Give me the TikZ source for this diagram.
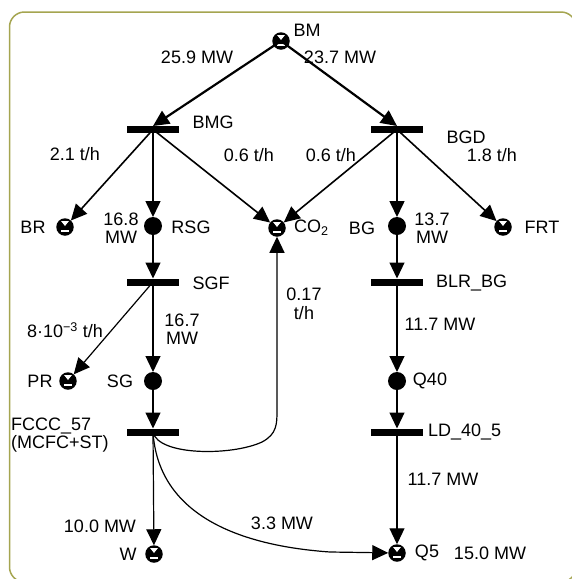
\documentclass[tikz,border=0pt]{standalone}
\usepackage{fontspec}
\setmainfont{Liberation Sans}
\usetikzlibrary{arrows.meta}
\definecolor{framecol}{RGB}{165,165,80}
\tikzset{
  lbl/.style={font=\fontsize{18}{18.5}\selectfont, inner sep=0pt, align=center},
  bar/.style={fill=black, minimum width=52pt, minimum height=7pt, inner sep=0pt, outer sep=0pt},
  place/.style={circle, fill=black, minimum size=18pt, inner sep=0pt, outer sep=0pt},
  sink/.style={circle, fill=black, minimum size=17.5pt, inner sep=0pt, outer sep=0pt,
    path picture={
      \fill[white] ([xshift=-3.8pt,yshift=5.8pt]path picture bounding box.center) -- ++(7.6pt,0pt)
        -- ([yshift=1pt]path picture bounding box.center) -- cycle;
      \fill[white] ([xshift=-3.6pt,yshift=-3.2pt]path picture bounding box.center) rectangle ++(7.2pt,-1.8pt);}},
  flow/.style={line width=1.2pt, -{Triangle[length=16pt,width=15pt]}},
  thickflow/.style={flow, line width=2.2pt},
  midflow/.style={flow, line width=1.6pt},
}
\begin{document}
\begin{tikzpicture}[x=1pt,y=-1pt]
\useasboundingbox (0,0) rectangle (572,579);
\begin{scope}
\clip (0,0) rectangle (572,579);
\draw[framecol, line width=1.5pt, rounded corners=15pt] (9.5,12) rectangle (576,582);
\end{scope}

% nodes
\node[sink] (BM) at (281,41) {};
\node[bar] (BMG) at (153,129.5) {};
\node[bar] (BGD) at (397,129.5) {};
\node[sink] (BR) at (65,227) {};
\node[place] (RSG) at (153,226) {};
\node[sink] (CO2) at (277,228) {};
\node[place] (BG) at (397,226) {};
\node[sink] (FRT) at (503,227) {};
\node[bar] (SGF) at (153,282) {};
\node[bar] (BLR) at (397,282) {};
\node[sink] (PR) at (68,381) {};
\node[place] (SG) at (153,381) {};
\node[place] (Q40) at (397,381) {};
\node[bar] (FCCC) at (153,432) {};
\node[bar] (LD) at (397,432) {};
\node[sink] (W) at (154,554) {};
\node[sink] (Q5) at (397,553) {};

% labels
\node[lbl] (lBM) at (307,30) {BM};
\node[lbl] (l259) at (197,57) {25.9 MW};
\node[lbl] (l237) at (340,57) {23.7 MW};
\node[lbl] (lBMG) at (213,122) {BMG};
\node[lbl] (lBGD) at (466,137) {BGD};
\node[lbl] (l21) at (75,154) {2.1 t/h};
\node[lbl] (l06a) at (249,155) {0.6 t/h};
\node[lbl] (l06b) at (331,155) {0.6 t/h};
\node[lbl] (l18) at (492,155) {1.8 t/h};
\node[lbl] (lBR) at (33,227) {BR};
\node[lbl] (l168) at (121,228) {16.8\\MW};
\node[lbl] (lRSG) at (191,227) {RSG};
\node[lbl, anchor=west] (lCO2) at (294,228) {CO\textsubscript{2}};
\node[lbl] (lBG) at (362,228) {BG};
\node[lbl] (l137) at (432,228) {13.7\\MW};
\node[lbl] (lFRT) at (542,227) {FRT};
\node[lbl] (lSGF) at (211,283) {SGF};
\node[lbl, anchor=west] (lBLR) at (436,283) {BLR\_BG};
\node[lbl] (l8) at (65,330) {8·10\textsuperscript{−3} t/h};
\node[lbl] (l167) at (182,329) {16.7\\MW};
\node[lbl] (l017) at (304,304) {0.17\\t/h};
\node[lbl] (l117a) at (440,324) {11.7 MW};
\node[lbl] (lPR) at (40,381) {PR};
\node[lbl] (lSG) at (120,381) {SG};
\node[lbl] (lQ40) at (430,381) {Q40};
\node[lbl, anchor=west, align=left] (lFCCC) at (11,435) {FCCC\_57\\(MCFC+ST)};
\node[lbl, anchor=west] (lLD) at (428,432) {LD\_40\_5};
\node[lbl] (l117b) at (443,479) {11.7 MW};
\node[lbl] (l100) at (100,526) {10.0 MW};
\node[lbl] (lW) at (128,554) {W};
\node[lbl] (l33) at (282,523) {3.3 MW};
\node[lbl] (lQ5) at (427,553) {Q5};
\node[lbl] (l150) at (490,553) {15.0 MW};

% connectors
\draw[thickflow] (BM.center) -- (BMG.north);
\draw[thickflow] (BM.center) -- (BGD.north);
\draw[midflow] (BMG.center) -- (BR);
\draw[midflow] (BMG.center) -- (RSG);
\draw[midflow] (BMG.center) -- (CO2);
\draw[midflow] (BGD.center) -- (CO2);
\draw[midflow] (BGD.center) -- (BG);
\draw[midflow] (BGD.center) -- (FRT);
\draw[flow] (RSG) -- (SGF.north);
\draw[flow] (BG) -- (BLR.north);
\draw[flow] (SGF.center) -- (PR);
\draw[flow] (SGF.center) -- (SG);
\draw[flow] (BLR.center) -- (Q40);
\draw[flow] (SG) -- (FCCC.north);
\draw[flow] (Q40) -- (LD.north);
\draw[flow] (FCCC.center) -- (W);
\draw[flow] (LD.center) -- (Q5);
\draw[flow] (FCCC.center) .. controls (158,456) and (232,456) .. (262,442)
   .. controls (277,434) and (277,424) .. (277,410) -- (CO2);
\draw[flow] (FCCC.center) .. controls (158,510) and (230,545) .. (330,552) -- (Q5);
\end{tikzpicture}
\end{document}
